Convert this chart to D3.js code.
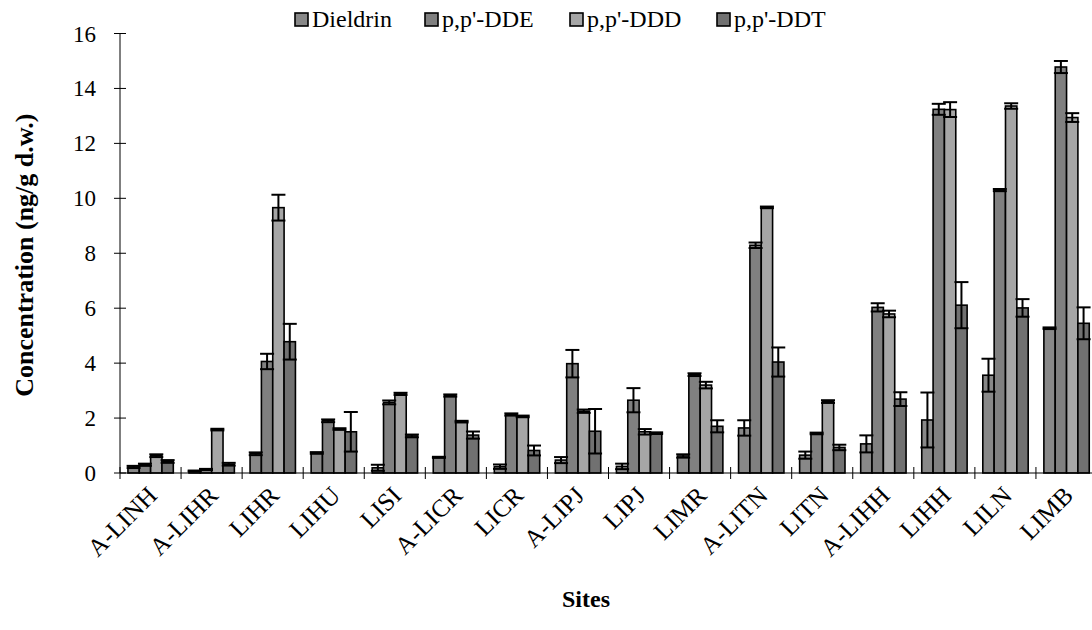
<!DOCTYPE html>
<html>
<head>
<meta charset="utf-8">
<script src="https://cdn.jsdelivr.net/npm/d3@7"></script>
<style>
  html, body { margin: 0; padding: 0; background: #fff; }
  svg { display: block; font-family: "Liberation Serif", "Times New Roman", serif; }
</style>
</head>
<body>
<svg id="chart" width="1092" height="630"></svg>
<script>
// Sampling sites (x categories)
const sites = ["A-LINH", "A-LIHR", "LIHR", "LIHU", "LISI", "A-LICR", "LICR", "A-LIPJ",
               "LIPJ", "LIMR", "A-LITN", "LITN", "A-LIHH", "LIHH", "LILN", "LIMB"];

// Compounds (series)
const compounds = ["Dieldrin", "p,p'-DDE", "p,p'-DDD", "p,p'-DDT"];

// Mean concentrations (ng/g d.w.) per site
const dieldrin = [0.22, 0.07, 0.70, 0.73, 0.19, 0.57, 0.23, 0.47, 0.24, 0.62, 1.64, 0.65, 1.06, 1.93, 3.56, 5.27];
const dde      = [0.30, 0.13, 4.06, 1.90, 2.57, 2.82, 2.13, 3.98, 2.65, 3.58, 8.29, 1.44, 6.03, 13.24, 10.30, 14.78];
const ddd      = [0.63, 1.58, 9.66, 1.60, 2.88, 1.87, 2.06, 2.25, 1.50, 3.20, 9.67, 2.60, 5.79, 13.23, 13.36, 12.94];
const ddt      = [0.42, 0.32, 4.78, 1.50, 1.35, 1.38, 0.82, 1.52, 1.45, 1.70, 4.04, 0.93, 2.69, 6.11, 6.01, 5.45];

// Standard deviations
const dieldrinSd = [0.04, 0.02, 0.05, 0.03, 0.11, 0.02, 0.08, 0.11, 0.10, 0.06, 0.28, 0.13, 0.31, 1.00, 0.60, 0.03];
const ddeSd      = [0.04, 0.02, 0.28, 0.05, 0.07, 0.04, 0.04, 0.50, 0.44, 0.05, 0.10, 0.03, 0.15, 0.20, 0.04, 0.22];
const dddSd      = [0.05, 0.03, 0.47, 0.03, 0.04, 0.03, 0.03, 0.06, 0.10, 0.12, 0.03, 0.05, 0.12, 0.27, 0.10, 0.16];
const ddtSd      = [0.05, 0.05, 0.65, 0.72, 0.05, 0.13, 0.18, 0.81, 0.03, 0.22, 0.53, 0.10, 0.25, 0.84, 0.32, 0.58];

const yTicks = [0, 2, 4, 6, 8, 10, 12, 14, 16];

const seriesValues = [dieldrin, dde, ddd, ddt];
const seriesSd = [dieldrinSd, ddeSd, dddSd, ddtSd];
const colors = ["#888888", "#808080", "#a6a6a6", "#717171"];

const svg = d3.select("#chart");

const plotLeft = 120, plotRight = 1097, plotTop = 33.5, plotBottom = 473;

const x = d3.scaleBand().domain(sites).range([plotLeft, plotRight]).padding(0);
const xInner = d3.scaleBand().domain(compounds)
  .range([x.bandwidth() * 0.13, x.bandwidth() * 0.873]).padding(0);
const y = d3.scaleLinear().domain([0, 16]).range([plotBottom, plotTop]);

// Flattened records for drawing
const records = [];
sites.forEach((s, i) => {
  compounds.forEach((c, j) => {
    records.push({ site: s, compound: c, value: seriesValues[j][i], sd: seriesSd[j][i], k: j });
  });
});

// Bars
svg.append("g").selectAll("rect").data(records).join("rect")
  .attr("x", d => x(d.site) + xInner(d.compound))
  .attr("y", d => y(d.value))
  .attr("width", xInner.bandwidth())
  .attr("height", d => y(0) - y(d.value))
  .attr("fill", d => colors[d.k])
  .attr("stroke", "#000")
  .attr("stroke-width", 1.6);

// Error bars
const capHalf = 7;
const eb = svg.append("g").attr("stroke", "#000").attr("stroke-width", 2);
records.forEach(d => {
  const cx = x(d.site) + xInner(d.compound) + xInner.bandwidth() / 2;
  const lo = Math.max(0, d.value - d.sd), hi = d.value + d.sd;
  eb.append("line").attr("x1", cx).attr("x2", cx).attr("y1", y(lo)).attr("y2", y(hi));
  eb.append("line").attr("x1", cx - capHalf).attr("x2", cx + capHalf).attr("y1", y(hi)).attr("y2", y(hi));
  eb.append("line").attr("x1", cx - capHalf).attr("x2", cx + capHalf).attr("y1", y(lo)).attr("y2", y(lo));
});

// Y axis
const yAxis = svg.append("g").attr("transform", `translate(${plotLeft},0)`);
yAxis.append("line").attr("x1", 0).attr("x2", 0).attr("y1", plotTop).attr("y2", plotBottom)
  .attr("stroke", "#000").attr("stroke-width", 1);
yAxis.selectAll("line.tick").data(yTicks).join("line").attr("class", "tick")
  .attr("x1", -6).attr("x2", 6).attr("y1", d => y(d)).attr("y2", d => y(d))
  .attr("stroke", "#000").attr("stroke-width", 1);
yAxis.selectAll("text").data(yTicks).join("text")
  .attr("x", -24).attr("y", d => y(d)).attr("dy", "0.35em")
  .attr("text-anchor", "end").attr("font-size", 23).text(d => d);

// X axis
const xAxis = svg.append("g");
xAxis.append("line").attr("x1", plotLeft).attr("x2", plotRight).attr("y1", y(0)).attr("y2", y(0))
  .attr("stroke", "#000").attr("stroke-width", 1);
xAxis.selectAll("line.tick").data(sites).join("line").attr("class", "tick")
  .attr("x1", d => x(d)).attr("x2", d => x(d))
  .attr("y1", y(0) - 6).attr("y2", y(0) + 6)
  .attr("stroke", "#000").attr("stroke-width", 1);
xAxis.selectAll("text").data(sites).join("text")
  .attr("transform", d => `translate(${x(d) + x.bandwidth() / 2 + 8},${y(0) + 24}) rotate(-45)`)
  .attr("text-anchor", "end").attr("font-size", 25).text(d => d);

// Axis titles
svg.append("text")
  .attr("transform", `translate(33,${(plotTop + plotBottom) / 2 + 2}) rotate(-90)`)
  .attr("text-anchor", "middle").attr("font-size", 26).attr("font-weight", "bold")
  .text("Concentration (ng/g d.w.)");
svg.append("text").attr("x", 586).attr("y", 607)
  .attr("text-anchor", "middle").attr("font-size", 24).attr("font-weight", "bold")
  .text("Sites");

// Legend
const legendX = [295, 425, 570, 717];
const legend = svg.append("g");
compounds.forEach((c, j) => {
  const g = legend.append("g").attr("transform", `translate(${legendX[j]},13)`);
  g.append("rect").attr("x", 0).attr("y", 0).attr("width", 13).attr("height", 13)
    .attr("fill", colors[j]).attr("stroke", "#000").attr("stroke-width", 1.6);
  g.append("text").attr("x", 17).attr("y", 14).attr("font-size", 24).text(c);
});
</script>
</body>
</html>
